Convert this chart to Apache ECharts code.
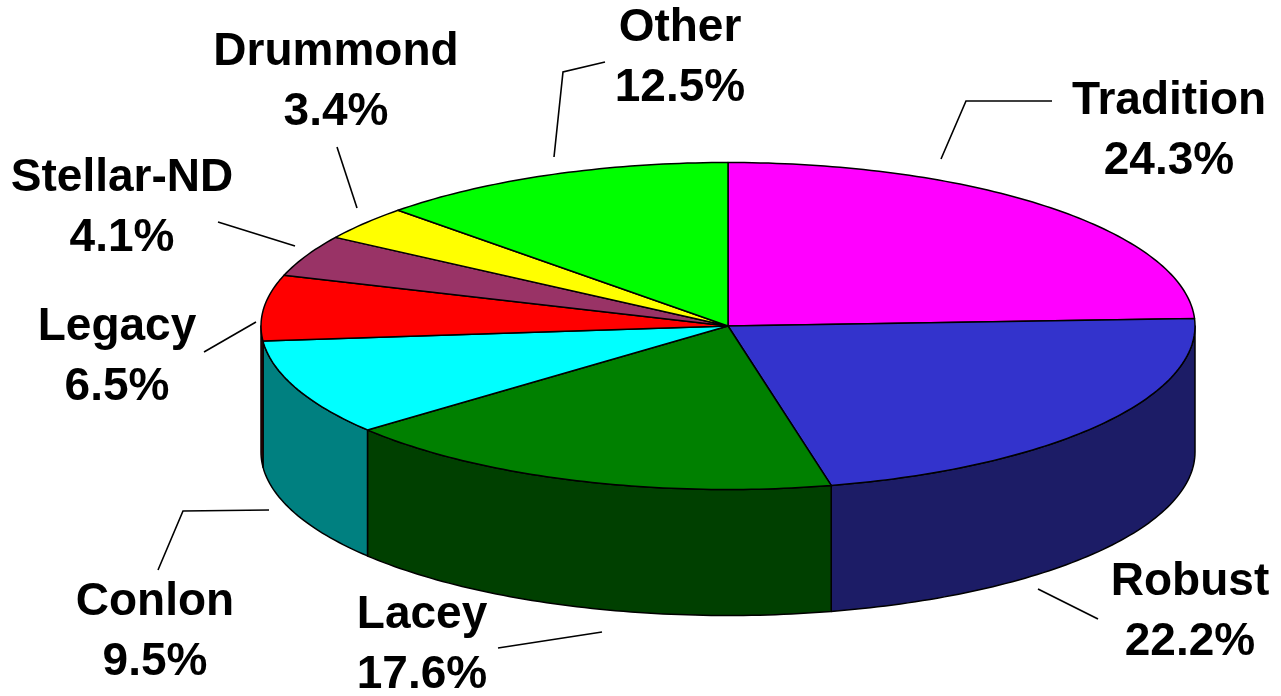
<!DOCTYPE html>
<html>
<head>
<meta charset="utf-8">
<script src="https://cdn.jsdelivr.net/npm/echarts@6/dist/echarts.min.js"></script>
<style>
  html, body { margin: 0; padding: 0; background: #fff; }
  #chart { width: 1281px; height: 696px; }
</style>
</head>
<body>
<div id="chart"></div>
<script>
  // data
  var names = ['Tradition', 'Robust', 'Lacey', 'Conlon', 'Legacy', 'Stellar-ND', 'Drummond', 'Other'];
  var shares = [24.3, 22.2, 17.6, 9.5, 6.5, 4.1, 3.4, 12.5];

  // colours: top face and darker side face
  var topColors = ['#FF00FF', '#3333CC', '#008000', '#00FFFF', '#FF0000', '#993366', '#FFFF00', '#00FF00'];
  var sideColors = ['#800080', '#1C1C66', '#004000', '#008080', '#800000', '#4D1A33', '#808000', '#008000'];

  // pie geometry (pixels)
  var pie = { cx: 728, cy: 326, rx: 467, ry: 163.5, depth: 126 };

  // label block centre and leader line, per slice
  var labelLayout = [
    { pos: [1169, 131], line: [[941, 159], [966, 101], [1052, 101]] },
    { pos: [1190, 612], line: [[1038, 589], [1098, 619]] },
    { pos: [422, 645], line: [[602, 632], [498, 648]] },
    { pos: [155, 632], line: [[269, 510], [183, 511], [158, 570]] },
    { pos: [117, 357], line: [[256, 322], [204, 352]] },
    { pos: [122, 208], line: [[295, 246], [218, 222]] },
    { pos: [336, 82], line: [[357, 208], [337, 147]] },
    { pos: [680, 58], line: [[554, 157], [563, 72], [605, 62]] }
  ];

  var total = shares.reduce(function (a, b) { return a + b; }, 0);
  var starts = [];
  var acc = 0;
  shares.forEach(function (v) {
    starts.push(acc / total * Math.PI * 2);
    acc += v;
  });

  //角度从12点方向顺时针计
  function pt(a, dy) {
    return [pie.cx + pie.rx * Math.sin(a), pie.cy - pie.ry * Math.cos(a) + dy];
  }
  function arc(a0, a1, dy) {
    var pts = [];
    var n = Math.max(2, Math.ceil((a1 - a0) / (Math.PI / 180)));
    for (var k = 0; k <= n; k++) {
      pts.push(pt(a0 + (a1 - a0) * k / n, dy));
    }
    return pts;
  }

  function renderSlice(params, api) {
    var i = params.dataIndex;
    var a0 = starts[i];
    var a1 = a0 + api.value(0) / total * Math.PI * 2;
    var children = [];

    // front side face, only the lower half of the ellipse is visible
    var s0 = Math.max(a0, Math.PI / 2);
    var s1 = Math.min(a1, Math.PI * 3 / 2);
    if (s1 > s0) {
      var side = arc(s0, s1, 0).concat(arc(s0, s1, pie.depth).reverse());
      children.push({
        type: 'polygon',
        shape: { points: side },
        style: { fill: sideColors[i], stroke: '#000', lineWidth: 1.5, lineJoin: 'round' }
      });
    }

    var top = [[pie.cx, pie.cy]].concat(arc(a0, a1, 0));
    children.push({
      type: 'polygon',
      shape: { points: top },
      style: { fill: topColors[i], stroke: '#000', lineWidth: 1.5, lineJoin: 'round' }
    });

    var lay = labelLayout[i];
    children.push({
      type: 'polyline',
      shape: { points: lay.line },
      style: { fill: null, stroke: '#000', lineWidth: 1.6 }
    });
    children.push({
      type: 'text',
      x: lay.pos[0],
      y: lay.pos[1],
      style: {
        text: names[i] + '\n' + api.value(0).toFixed(1) + '%',
        fontFamily: '"Liberation Sans", Arial, sans-serif',
        fontWeight: 'bold',
        fontSize: 46,
        lineHeight: 60,
        fill: '#000',
        align: 'center',
        verticalAlign: 'middle'
      }
    });

    return { type: 'group', children: children };
  }

  var chart = echarts.init(document.getElementById('chart'));
  chart.setOption({
    animation: false,
    backgroundColor: '#fff',
    series: [{
      type: 'custom',
      coordinateSystem: 'none',
      renderItem: renderSlice,
      data: shares.map(function (v, i) { return { name: names[i], value: [v] }; })
    }]
  });
</script>
</body>
</html>
